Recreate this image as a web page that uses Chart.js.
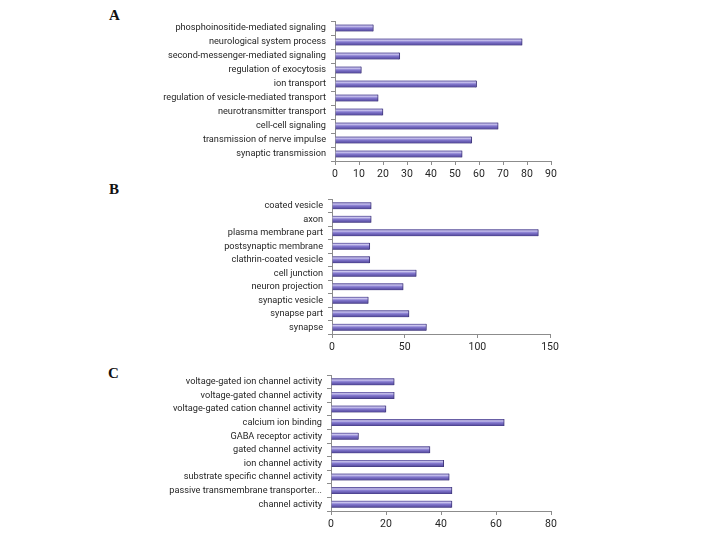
<!DOCTYPE html>
<html>
<head>
<meta charset="utf-8">
<script src="https://cdn.jsdelivr.net/npm/chart.js@4/dist/chart.umd.min.js"></script>
<style>
  html, body { margin: 0; padding: 0; background: #ffffff; }
  body { width: 708px; height: 540px; position: relative; overflow: hidden; }
  .panel { position: absolute; left: 0; width: 708px; }
  .letter { position: absolute; font-family: "Liberation Serif", "DejaVu Serif", serif; font-weight: bold; font-size: 15px; color: #111; }
</style>
</head>
<body>
<div class="letter" style="left:109px; top:7px;">A</div>
<div class="letter" style="left:109px; top:181px;">B</div>
<div class="letter" style="left:108px; top:365px;">C</div>
<div class="panel" style="top:0px; height:185px;"><canvas id="cA" width="708" height="185"></canvas></div>
<div class="panel" style="top:185px; height:175px;"><canvas id="cB" width="708" height="175"></canvas></div>
<div class="panel" style="top:360px; height:180px;"><canvas id="cC" width="708" height="180"></canvas></div>
<script>
// ---- Data (top to bottom as displayed) ----
const categoriesA = [
  "phosphoinositide-mediated signaling",
  "neurological system process",
  "second-messenger-mediated signaling",
  "regulation of exocytosis",
  "ion transport",
  "regulation of vesicle-mediated transport",
  "neurotransmitter transport",
  "cell-cell signaling",
  "transmission of nerve impulse",
  "synaptic transmission"
];
const valuesA = [16, 78, 27, 11, 59, 18, 20, 68, 57, 53];
const ticksA = [0, 10, 20, 30, 40, 50, 60, 70, 80, 90];

const categoriesB = [
  "coated vesicle",
  "axon",
  "plasma membrane part",
  "postsynaptic membrane",
  "clathrin-coated vesicle",
  "cell junction",
  "neuron projection",
  "synaptic vesicle",
  "synapse part",
  "synapse"
];
const valuesB = [27, 27, 142, 26, 26, 58, 49, 25, 53, 65];
const ticksB = [0, 50, 100, 150];

const categoriesC = [
  "voltage-gated ion channel activity",
  "voltage-gated channel activity",
  "voltage-gated cation channel activity",
  "calcium ion binding",
  "GABA receptor activity",
  "gated channel activity",
  "ion channel activity",
  "substrate specific channel activity",
  "passive transmembrane transporter...",
  "channel activity"
];
const valuesC = [23, 23, 20, 63, 10, 36, 41, 43, 44, 44];
const ticksC = [0, 20, 40, 60, 80];

const FONT = "Roboto, 'Liberation Sans', sans-serif";
const TEXT = "#262626";
const AXIS = "#8c8c8c";
const BAR_T = 7;

function barFill(ctx) {
  const chart = ctx.chart;
  const yScale = chart.scales && chart.scales.y;
  if (!yScale || ctx.type !== 'data') return '#7468bf';
  const yc = yScale.getPixelForValue(ctx.dataIndex);
  if (!isFinite(yc)) return '#7468bf';
  const g = chart.ctx.createLinearGradient(0, yc - BAR_T / 2, 0, yc + BAR_T / 2);
  g.addColorStop(0, '#4b4190');
  g.addColorStop(0.25, '#c9c3ee');
  g.addColorStop(0.5, '#8479cf');
  g.addColorStop(0.85, '#5d52a6');
  g.addColorStop(1, '#3e3578');
  return g;
}

function makeChart(id, cats, vals, ticks, geom) {
  const maxV = ticks[ticks.length - 1];
  const step = ticks[1] - ticks[0];
  return new Chart(document.getElementById(id), {
    type: 'bar',
    data: {
      labels: cats,
      datasets: [{
        data: vals,
        backgroundColor: barFill,
        borderColor: '#3e3578',
        borderWidth: { top: 0, bottom: 0, left: 0, right: 1 },
        barThickness: BAR_T,
        borderSkipped: 'start'
      }]
    },
    options: {
      indexAxis: 'y',
      responsive: false,
      animation: false,
      events: [],
      layout: { padding: { left: 0, top: geom.top, right: geom.right, bottom: 0 } },
      plugins: { legend: { display: false }, tooltip: { enabled: false } },
      scales: {
        x: {
          min: 0, max: maxV,
          afterBuildTicks: (s) => { s.ticks = ticks.map(v => ({ value: v })); },
          afterFit: (s) => { s.height = geom.xh; },
          grid: { drawOnChartArea: false, drawTicks: true, tickLength: 4, color: AXIS, tickColor: AXIS },
          border: { display: true, color: AXIS, width: 1 },
          ticks: { color: TEXT, font: { family: FONT, size: 10.5 }, padding: 3, maxRotation: 0, autoSkip: false, stepSize: step }
        },
        y: {
          afterFit: (s) => { s.width = geom.left; },
          grid: { offset: true, drawOnChartArea: false, drawTicks: true, tickLength: 4, color: AXIS, tickColor: AXIS },
          border: { display: true, color: AXIS, width: 1 },
          ticks: { color: TEXT, font: { family: FONT, size: 9.2 }, padding: 5, autoSkip: false }
        }
      }
    }
  });
}

makeChart('cA', categoriesA, valuesA, ticksA, { top: 21, right: 157, left: 335, xh: 24 });
makeChart('cB', categoriesB, valuesB, ticksB, { top: 14, right: 158, left: 332, xh: 26 });
makeChart('cC', categoriesC, valuesC, ticksC, { top: 15, right: 157, left: 331, xh: 29 });
</script>
</body>
</html>
